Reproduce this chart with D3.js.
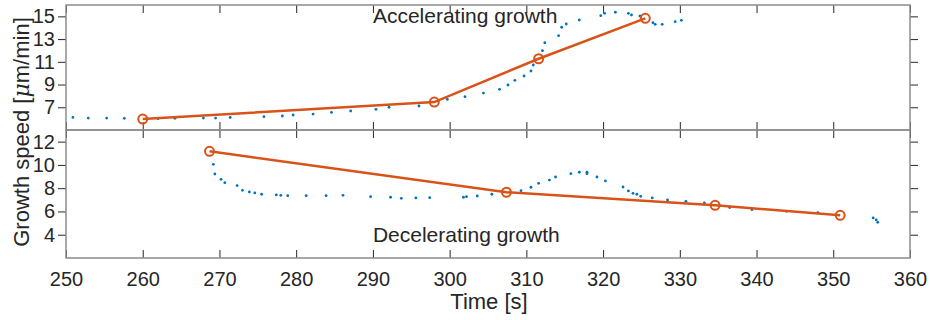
<!DOCTYPE html>
<html>
<head>
<meta charset="utf-8">
<script src="https://cdn.jsdelivr.net/npm/d3@7"></script>
<style>
  body { margin: 0; background: #fff; }
  text { font-family: "Liberation Sans", Arial, sans-serif; fill: #262626; }
</style>
</head>
<body>
<svg id="chart" width="930" height="320"></svg>
<script>
// top panel: measured speed (dots) and fitted segments (orange)
const accelT = [250.9, 252.9, 255.3, 257.6, 262.0, 264.2, 267.9, 269.5, 271.4, 275.8, 278.2, 279.6, 282.2, 284.6, 287.1, 290.4, 292.1, 296.0, 299.7, 302.0, 304.4, 306.5, 307.6, 308.5, 309.7, 310.6, 310.9, 311.2, 312.1, 312.4, 314.2, 314.6, 315.2, 316.9, 319.7, 320.2, 321.6, 323.3, 323.7, 324.8, 326.5, 326.8, 327.7, 329.4, 330.2]
const accelV = [6.11, 6.05, 6.05, 6.03, 6.0, 6.03, 6.05, 6.05, 6.11, 6.17, 6.23, 6.32, 6.40, 6.55, 6.67, 6.82, 7.0, 7.11, 7.70, 7.93, 8.25, 8.58, 8.96, 9.37, 9.75, 10.19, 10.72, 11.16, 11.98, 12.68, 13.30, 14.04, 14.33, 14.68, 15.06, 15.27, 15.36, 15.27, 15.12, 15.03, 14.44, 14.30, 14.30, 14.53, 14.65]
const accelFitT = [260, 298, 311.6, 325.5]
const accelFitV = [5.96, 7.46, 11.27, 14.83]

// bottom panel
const decelT = [269.2, 269.4, 270.2, 270.7, 272.3, 273.0, 273.9, 274.6, 275.5, 277.4, 278.0, 278.9, 281.3, 283.9, 286.1, 289.7, 292.3, 293.7, 295.6, 297.4, 301.8, 302.2, 303.6, 305.5, 309.3, 310.6, 311.6, 313.0, 313.8, 315.8, 316.9, 317.9, 317.9, 319.2, 320.3, 322.6, 323.3, 323.9, 324.4, 324.9, 326.4, 328.4, 330.8, 333.2, 336.5, 339.4, 343.9, 348.0, 355.2, 355.6, 355.8]
const decelV = [10.05, 9.22, 8.76, 8.47, 8.22, 7.82, 7.67, 7.59, 7.48, 7.42, 7.39, 7.36, 7.36, 7.36, 7.39, 7.27, 7.22, 7.13, 7.16, 7.18, 7.22, 7.27, 7.33, 7.48, 7.79, 8.08, 8.42, 8.70, 8.96, 9.25, 9.37, 9.37, 9.25, 8.96, 8.62, 8.10, 7.76, 7.56, 7.48, 7.30, 7.16, 6.99, 6.87, 6.73, 6.33, 6.15, 6.01, 5.9, 5.44, 5.27, 5.07]
const decelFitT = [268.7, 307.4, 334.6, 350.9]
const decelFitV = [11.17, 7.65, 6.53, 5.67]

const xTicks = [250, 260, 270, 280, 290, 300, 310, 320, 330, 340, 350, 360]
const topTicks = [7, 9, 11, 13, 15]
const bottomTicks = [4, 6, 8, 10, 12]

const blue = '#0072BD'
const orange = '#D95319'

const svg = d3.select('#chart')
const left = 66, right = 910
const x = d3.scaleLinear().domain([250, 360]).range([left, right])

function panel(opts) {
  const y = d3.scaleLinear().domain(opts.domain).range([opts.bottom, opts.top])
  const g = svg.append('g')

  g.append('g')
    .attr('transform', `translate(${left},0)`)
    .call(d3.axisLeft(y).tickValues(opts.ticks).tickSize(8).tickPadding(3))
    .call(a => a.selectAll('.tick text').style('font-size', '20px'))
  g.append('g')
    .attr('transform', `translate(${right},0)`)
    .call(d3.axisLeft(y).tickValues(opts.ticks).tickSize(-8).tickFormat(''))
  g.append('g')
    .attr('transform', `translate(0,${opts.bottom})`)
    .call(d3.axisBottom(x).tickValues(xTicks).tickSize(-8))
    .call(a => a.selectAll('.tick text')
      .style('font-size', '20px')
      .attr('dy', '0.71em')
      .attr('y', opts.showX ? 14 : 0)
      .text(opts.showX ? (d => d) : ''))
  g.append('g')
    .attr('transform', `translate(0,${opts.top})`)
    .call(d3.axisTop(x).tickValues(xTicks).tickSize(-8).tickFormat(''))

  g.selectAll('.domain').remove()
  g.selectAll('.tick line').attr('stroke', '#262626')
  g.selectAll('.tick text').style('fill', '#262626').attr('font-family', null)

  g.append('rect')
    .attr('x', left).attr('y', opts.top)
    .attr('width', right - left).attr('height', opts.bottom - opts.top)
    .attr('fill', 'none').attr('stroke', '#8c8c8c').attr('stroke-width', 1.5)

  g.selectAll('.dot')
    .data(opts.t.map((t, i) => [t, opts.v[i]]))
    .join('circle')
    .attr('cx', d => x(d[0]))
    .attr('cy', d => y(d[1]))
    .attr('r', 1.4)
    .attr('fill', blue)

  const fit = opts.fitT.map((t, i) => [t, opts.fitV[i]])
  g.append('path')
    .datum(fit)
    .attr('d', d3.line().x(d => x(d[0])).y(d => y(d[1])))
    .attr('fill', 'none').attr('stroke', orange).attr('stroke-width', 2.5)
  g.selectAll('.mk')
    .data(fit)
    .join('circle')
    .attr('cx', d => x(d[0])).attr('cy', d => y(d[1]))
    .attr('r', 4.5)
    .attr('fill', 'none').attr('stroke', orange).attr('stroke-width', 2)

  g.append('text')
    .attr('x', x(opts.label[0])).attr('y', y(opts.label[1]))
    .style('font-size', '21px')
    .text(opts.label[2])
}

panel({ domain: [5, 16], top: 5, bottom: 130, ticks: topTicks, showX: false,
  t: accelT, v: accelV, fitT: accelFitT, fitV: accelFitV,
  label: [290, 14.4, 'Accelerating growth'] })

panel({ domain: [2, 13], top: 130, bottom: 258, ticks: bottomTicks, showX: true,
  t: decelT, v: decelV, fitT: decelFitT, fitV: decelFitV,
  label: [290, 3.4, 'Decelerating growth'] })

svg.append('text')
  .attr('x', (left + right) / 2 + 1).attr('y', 309)
  .attr('text-anchor', 'middle')
  .style('font-size', '22px')
  .text('Time [s]')

const yl = svg.append('text')
  .attr('transform', 'translate(29,132) rotate(-90)')
  .attr('text-anchor', 'middle')
  .style('font-size', '22px')
yl.append('tspan').text('Growth speed [')
yl.append('tspan').style('font-style', 'italic').attr('font-family', '"DejaVu Serif", serif').text('μ')
yl.append('tspan').text('m/min]')
</script>
</body>
</html>
